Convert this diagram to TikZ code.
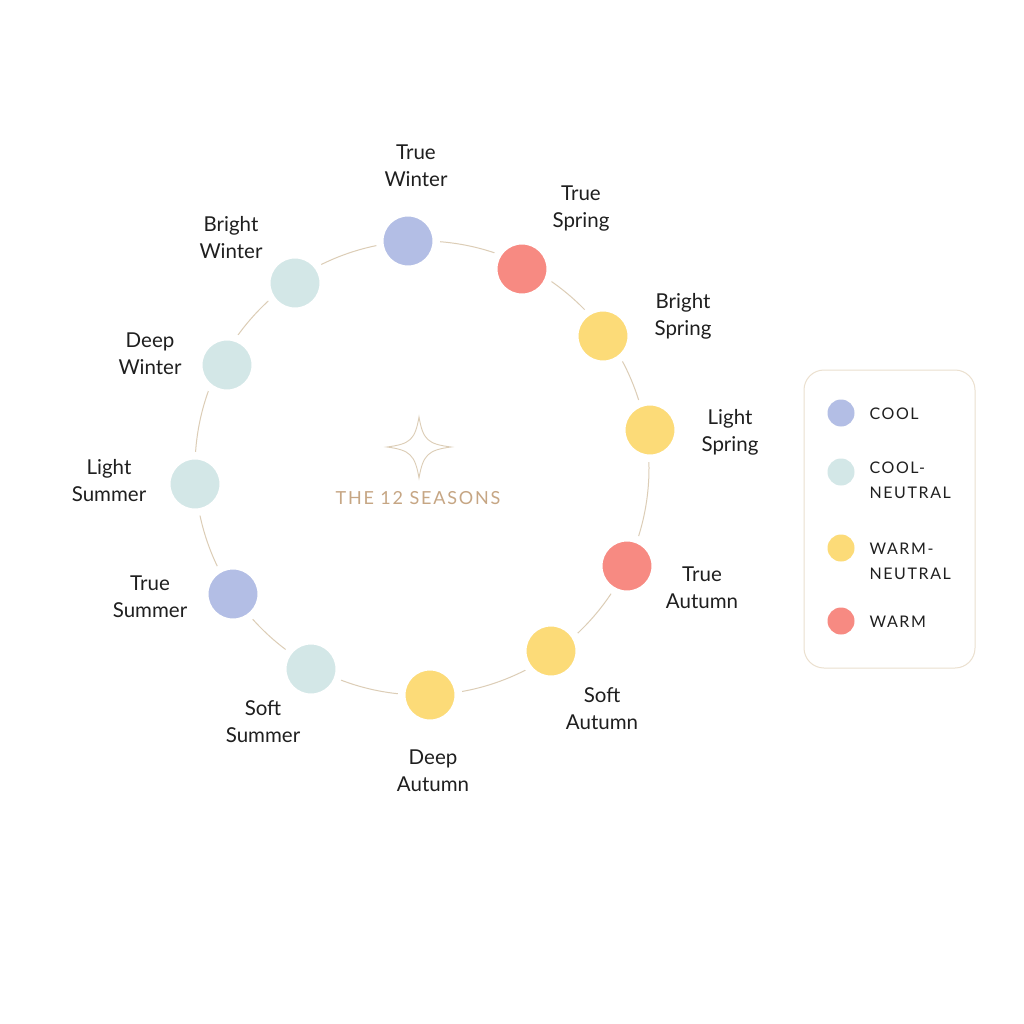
\documentclass[tikz,border=0pt]{standalone}
\usepackage{fontspec}
\setmainfont{Lato}
\newfontfamily\capsfont[LetterSpace=10]{Lato}
\usetikzlibrary{shadows}

\definecolor{cool}{HTML}{B3BEE5}
\definecolor{coolneutral}{HTML}{D3E7E7}
\definecolor{warmneutral}{HTML}{FCDB78}
\definecolor{warm}{HTML}{F78A82}
\definecolor{ring}{HTML}{DCCDB6}
\definecolor{tan}{HTML}{C6A684}
\definecolor{boxline}{HTML}{EBE0CF}

\begin{document}
\begin{tikzpicture}[x=1pt,y=-1pt,
    dot/.style={circle,minimum size=56.5pt,inner sep=0pt,draw=white,line width=7.5pt,
      circular drop shadow={shadow xshift=0pt,shadow yshift=-1.5pt,shadow scale=1.05,opacity=0.25}},
    lbl/.style={align=center,text=black!88,font=\fontsize{20.5}{27}\selectfont},
    keydot/.style={circle,minimum size=27pt,inner sep=0pt},
    keytext/.style={anchor=west,align=left,text=black!88,font=\capsfont\fontsize{16}{25}\selectfont}]
    \useasboundingbox[fill=white] (0,0) rectangle (1024,1024);
    % ring
    \draw[ring,line width=1pt](422,468) circle[radius=227];
    % star in the middle
    \draw[ring,line width=0.9pt](419,417)..controls(423,440)and(428,444)..(451,447)
      ..controls(428,450)and(423,455)..(419,478)..controls(415,455)and(410,450)..(387,447)
      ..controls(410,444)and(415,440)..(419,417)--cycle;
    \node[text=tan,font=\capsfont\fontsize{18}{20}\selectfont](title) at(418,498){THE 12 SEASONS};
    % seasons
    \node[dot,fill=cool](tw) at(408,241){};
    \node[dot,fill=warm](ts) at(522,269){};
    \node[dot,fill=warmneutral](bs) at(603,336){};
    \node[dot,fill=warmneutral](ls) at(650,430){};
    \node[dot,fill=warm](ta) at(627,566){};
    \node[dot,fill=warmneutral](sa) at(551,651){};
    \node[dot,fill=warmneutral](da) at(430,695){};
    \node[dot,fill=coolneutral](ssu) at(311,669){};
    \node[dot,fill=cool](tsu) at(233,594){};
    \node[dot,fill=coolneutral](lsu) at(195,484){};
    \node[dot,fill=coolneutral](dw) at(227,365){};
    \node[dot,fill=coolneutral](bw) at(295,283){};
    % labels
    \node[lbl](twl) at(416,166){True\\Winter};
    \node[lbl](tsl) at(581,209){True\\Spring};
    \node[lbl](bsl) at(683,316){Bright\\Spring};
    \node[lbl](lsl) at(730,432){Light\\Spring};
    \node[lbl](tal) at(702,588){True\\Autumn};
    \node[lbl](sal) at(602,709){Soft\\Autumn};
    \node[lbl](dal) at(433,771){Deep\\Autumn};
    \node[lbl](ssul) at(263,722){Soft\\Summer};
    \node[lbl](tsul) at(150,597){True\\Summer};
    \node[lbl](lsul) at(109,481){Light\\Summer};
    \node[lbl](dwl) at(150,354){Deep\\Winter};
    \node[lbl](bwl) at(231,238){Bright\\Winter};
    % legend
    \draw[boxline,line width=1pt,rounded corners=20pt](804,370) rectangle (975,668);
    \node[keydot,fill=cool](k1) at(841,413){};
    \node[keydot,fill=coolneutral](k2) at(841,472){};
    \node[keydot,fill=warmneutral](k3) at(841,548){};
    \node[keydot,fill=warm](k4) at(841,621){};
    \node[keytext](k1t) at(866,414){COOL};
    \node[keytext](k2t) at(866,480){COOL-\\NEUTRAL};
    \node[keytext](k3t) at(866,561){WARM-\\NEUTRAL};
    \node[keytext](k4t) at(866,622){WARM};
\end{tikzpicture}
\end{document}
